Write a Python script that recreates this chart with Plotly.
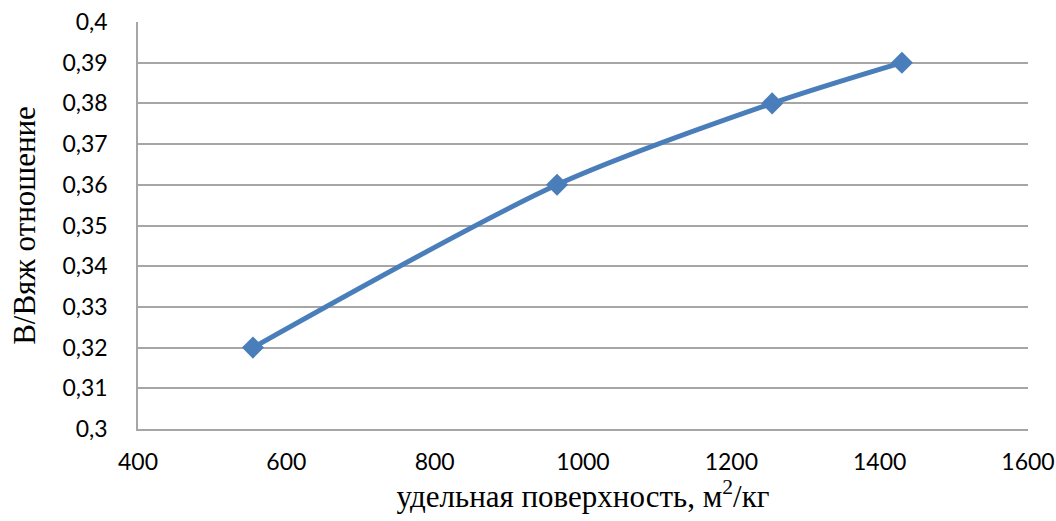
import plotly.graph_objects as go

# Specific surface area (m²/kg) vs water/binder ratio
surface = [555, 965, 1255, 1430]
wb_ratio = [0.32, 0.36, 0.38, 0.39]

x_ticks = [400, 600, 800, 1000, 1200, 1400, 1600]
y_ticks = [0.30, 0.31, 0.32, 0.33, 0.34, 0.35, 0.36, 0.37, 0.38, 0.39, 0.40]

line_color = "#4a7ebb"
grid_color = "#a6a6a6"
tick_font = dict(family="Lato", size=23, color="#000000")
title_font = dict(family="Liberation Serif", size=31, color="#000000")

fig = go.Figure()
fig.add_trace(go.Scatter(
    x=surface, y=wb_ratio,
    mode="lines+markers",
    line=dict(color=line_color, width=5, shape="spline", smoothing=0.8),
    marker=dict(symbol="diamond", size=17, color=line_color),
    showlegend=False,
))

fig.update_layout(
    width=1056, height=521,
    margin=dict(l=138, r=28, t=22, b=92),
    paper_bgcolor="white", plot_bgcolor="white",
    separators=", ",
)
fig.update_xaxes(
    range=[400, 1600], tickvals=x_ticks, automargin=False,
    showgrid=False, zeroline=False,
    showline=True, linecolor=grid_color, linewidth=1.5,
    ticks="", tickfont=tick_font, ticklabelstandoff=12,
    title=dict(text="удельная поверхность, м<sup>2</sup>/кг", font=title_font, standoff=8),
)
fig.update_yaxes(
    range=[0.30, 0.40], tickvals=y_ticks, automargin=False,
    ticktext=[f"{v:.2f}".rstrip("0").replace(".", ",") for v in y_ticks],
    showgrid=True, gridcolor=grid_color, gridwidth=1.5,
    zeroline=False,
    showline=True, linecolor=grid_color, linewidth=1.5,
    ticks="", tickfont=tick_font, ticklabelstandoff=24,
    title=dict(text="В/Вяж отношение", font=title_font, standoff=18),
)

fig.write_html("out.html")
